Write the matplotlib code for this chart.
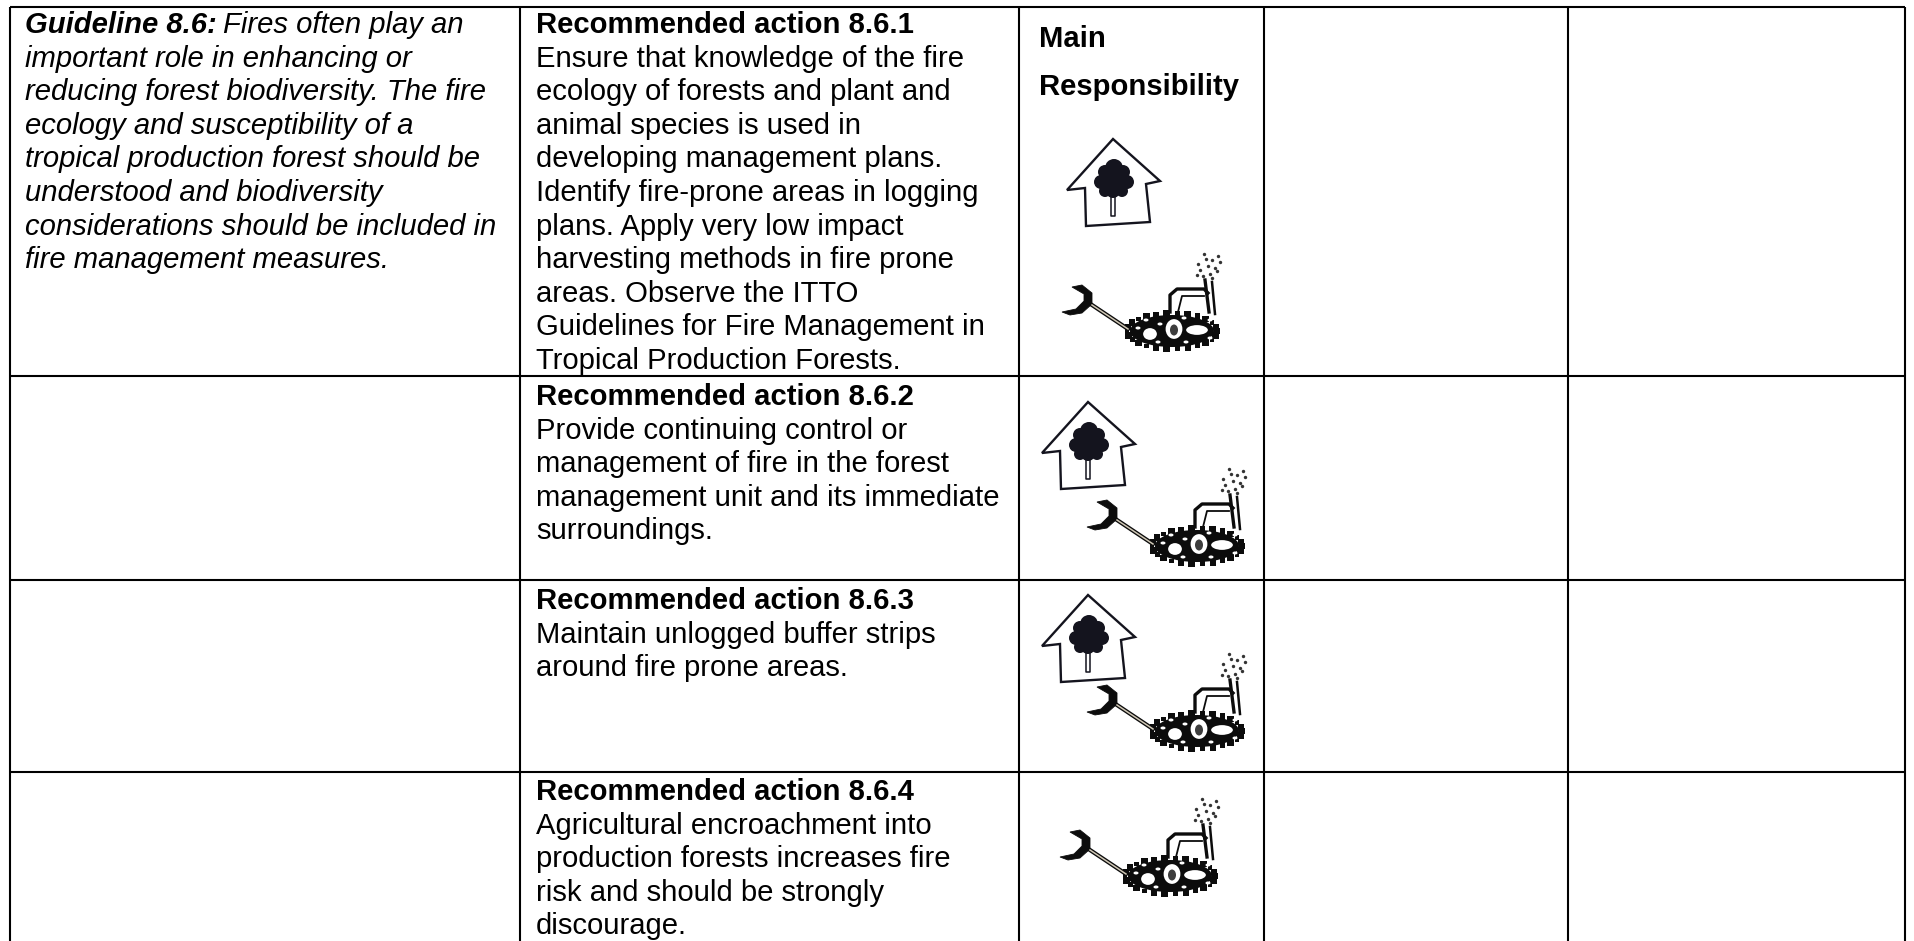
import numpy as np
import matplotlib
matplotlib.use("Agg")
import matplotlib.pyplot as plt
from matplotlib.patches import Circle, Ellipse, Polygon

plt.rcParams['font.family'] = ['Liberation Sans', 'DejaVu Sans']

# table text
guideline_head = "Guideline 8.6:"
guideline_lines = ["Fires often play an",
                   "important role in enhancing or",
                   "reducing forest biodiversity. The fire",
                   "ecology and susceptibility of a",
                   "tropical production forest should be",
                   "understood and biodiversity",
                   "considerations should be included in",
                   "fire management measures."]
action_heads = ["Recommended action 8.6.1", "Recommended action 8.6.2",
                "Recommended action 8.6.3", "Recommended action 8.6.4"]
action_bodies = [
    ["Ensure that knowledge of the fire", "ecology of forests and plant and",
     "animal species is used in", "developing management plans.",
     "Identify fire-prone areas in logging", "plans. Apply very low impact",
     "harvesting methods in fire prone", "areas. Observe the ITTO",
     "Guidelines for Fire Management in", "Tropical Production Forests."],
    ["Provide continuing control or", "management of fire in the forest",
     "management unit and its immediate", "surroundings."],
    ["Maintain unlogged buffer strips", "around fire prone areas."],
    ["Agricultural encroachment into", "production forests increases fire",
     "risk and should be strongly", "discourage."],
]
resp_head = ["Main", "Responsibility"]

# grid, in pixels
col_edges = [10, 520, 1019, 1264, 1568, 1905]
row_edges = [7, 376, 580, 772, 941]
row_tops = [25, 397, 601, 792]
house_at = [(1113, 139), (1088, 402), (1088, 595)]
digger_at = [(1062, 312), (1087, 527), (1087, 712), (1060, 857)]

FS = 21.1
PITCH = 33.6

fig = plt.figure(figsize=(19.15, 9.41), dpi=100)
ax = fig.add_axes([0, 0, 1, 1])
ax.set_xlim(0, 1915)
ax.set_ylim(941, 0)
ax.axis("off")

for x in col_edges:
    ax.plot([x, x], [row_edges[0], row_edges[-1]], color="k", lw=1.5, solid_capstyle="butt")
for y in row_edges[:-1]:
    ax.plot([col_edges[0], col_edges[-1]], [y, y], color="k", lw=1.5, solid_capstyle="butt")


def draw_house(x0, y0):
    c = "#14141e"
    pts = np.array([(0, 0), (47, 42), (33, 45), (37, 83), (-27, 87), (-28, 49), (-46, 51)])
    ax.add_patch(Polygon(pts + (x0, y0), closed=True, fill=False, ec=c, lw=1.7))
    # tree crown
    lobes = [(1, 29, 9), (-8, 33, 7), (10, 33, 7), (-12, 43, 7), (14, 43, 7),
             (1, 41, 12), (-8, 52, 6), (0, 52, 7), (9, 52, 6)]
    for dx, dy, r in lobes:
        ax.add_patch(Circle((x0 + dx, y0 + dy), r, color=c, lw=0))
    ax.plot([x0 - 2, x0 - 2, x0 + 2, x0 + 2], [y0 + 56, y0 + 77, y0 + 77, y0 + 56], color=c, lw=1.1)


def draw_digger(x0, y0):
    c = "#0c0c0c"
    # claw and arm
    claw = np.array([(0, 0), (14, -3), (22, -11), (22, -18), (10, -25), (20, -27), (30, -19), (30, -8), (20, 1), (8, 3)])
    ax.add_patch(Polygon(claw + (x0, y0), closed=True, fc=c, ec=c, lw=0.6))
    ax.plot(x0 + np.array([30, 66]), y0 + np.array([-7, 17]), color=c, lw=3.0)
    ax.plot(x0 + np.array([30, 66]), y0 + np.array([-7, 17]), color="#cfc7b5", lw=1.1)
    # tracks
    ax.add_patch(Ellipse((x0 + 110, y0 + 19), 84, 32, fc=c, ec=c, lw=0))
    ang = np.arange(0, 2 * np.pi, 2 * np.pi / 26)
    spike = [14, 22, 10, 26, 14, 20, 12, 24, 16, 10, 22, 14, 26, 12, 18, 22, 10, 24, 14, 20, 12, 26, 16, 22, 10, 18]
    ax.scatter(x0 + 110 + 45 * np.cos(ang), y0 + 19 + 18 * np.sin(ang), s=spike, marker="s", color=c, lw=0)
    # wheels and gaps in the track
    for dx, dy, w, h in [(88, 22, 16, 14), (112, 17, 19, 22), (135, 18, 24, 12)]:
        ax.add_patch(Ellipse((x0 + dx, y0 + dy), w, h, fc="white", ec=c, lw=1.6))
    ax.add_patch(Ellipse((x0 + 112, y0 + 18), 8, 11, fc=c, lw=0, alpha=0.8))
    flecks = [(76, 16), (98, 12), (122, 6), (96, 30), (124, 30), (148, 26), (84, 8), (148, 8)]
    for dx, dy in flecks:
        ax.add_patch(Ellipse((x0 + dx, y0 + dy), 5, 3, fc="white", lw=0))
    # cab
    ax.plot(x0 + np.array([108, 108, 115, 142, 146]), y0 + np.array([0, -17, -23, -23, -19]), color=c, lw=2.4)
    ax.plot(x0 + np.array([116, 120, 142]), y0 + np.array([0, -16, -16]), color=c, lw=1.3)
    ax.plot(x0 + np.array([143, 147]), y0 + np.array([-32, 0]), color=c, lw=2.4)
    ax.plot(x0 + np.array([150, 153]), y0 + np.array([-30, 2]), color=c, lw=1.8)
    # smoke
    sx = [136, 142, 150, 156, 138, 146, 153, 158, 141, 148, 155, 144, 150, 135]
    sy = [-48, -58, -52, -56, -42, -46, -44, -50, -36, -38, -41, -53, -34, -37]
    ax.scatter(x0 + np.array(sx), y0 + np.array(sy), s=6, color="#333333", lw=0)


for i, line in enumerate(guideline_lines):
    y = row_tops[0] + i * PITCH
    if i == 0:
        t = ax.text(col_edges[0] + 15, y, guideline_head, fontsize=FS, style="italic", weight="bold", va="center")
        fig.canvas.draw()
        x1 = ax.transData.inverted().transform(t.get_window_extent().get_points())[1, 0]
        ax.text(x1 + 6, y, line, fontsize=FS, style="italic", va="center")
    else:
        ax.text(col_edges[0] + 15, y, line, fontsize=FS, style="italic", va="center")

for head, body, top in zip(action_heads, action_bodies, row_tops):
    ax.text(col_edges[1] + 16, top, head, fontsize=FS, weight="bold", va="center")
    for i, line in enumerate(body):
        ax.text(col_edges[1] + 16, top + (i + 1) * PITCH, line, fontsize=FS, va="center")

ax.text(col_edges[2] + 20, 39, resp_head[0], fontsize=FS, weight="bold", va="center")
ax.text(col_edges[2] + 20, 87, resp_head[1], fontsize=FS, weight="bold", va="center")

for x0, y0 in house_at:
    draw_house(x0, y0)
for x0, y0 in digger_at:
    draw_digger(x0, y0)

plt.savefig("out.png", dpi=100)
